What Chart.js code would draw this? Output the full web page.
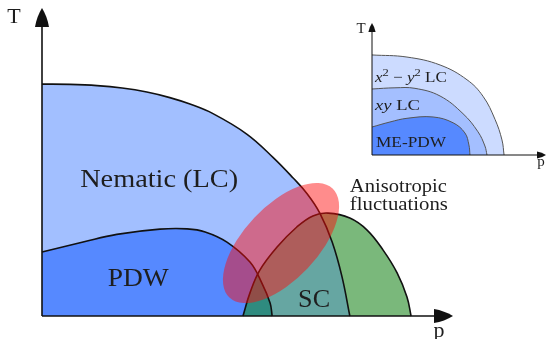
<!DOCTYPE html>
<html>
<head>
<meta charset="utf-8">
<script src="https://cdn.jsdelivr.net/npm/chart.js@4/dist/chart.umd.min.js"></script>
<style>
html,body{margin:0;padding:0;background:#fff;}
#wrap{position:relative;width:547px;height:339px;overflow:hidden;}
canvas{position:absolute;left:0;top:0;}
</style>
</head>
<body>
<div id="wrap">
<canvas id="main" width="547" height="339"></canvas>
<canvas id="inset" width="547" height="339"></canvas>
</div>
<script>
// Schematic phase diagram: doping p (x) against temperature T (y), arbitrary units 0..1

// Nematic (loop-current) transition line
const nematicP = [0, 0.068, 0.134, 0.195, 0.255, 0.311, 0.360, 0.416, 0.499, 0.562, 0.611, 0.645, 0.676, 0.706, 0.730, 0.749];
const nematicT = [0.753, 0.752, 0.748, 0.740, 0.727, 0.709, 0.688, 0.657, 0.590, 0.515, 0.448, 0.397, 0.334, 0.240, 0.127, 0];

// Pair-density-wave transition line
const pdwP = [0, 0.100, 0.182, 0.287, 0.353, 0.397, 0.450, 0.506, 0.535, 0.555, 0.560];
const pdwT = [0.208, 0.240, 0.265, 0.282, 0.283, 0.273, 0.240, 0.175, 0.107, 0.042, 0];

// Superconducting dome
const scP = [0.489, 0.506, 0.530, 0.572, 0.620, 0.659, 0.696, 0.749, 0.791, 0.830, 0.864, 0.888, 0.898];
const scT = [0, 0.075, 0.149, 0.224, 0.289, 0.325, 0.334, 0.318, 0.279, 0.214, 0.140, 0.062, 0];

// Region of anisotropic fluctuations: centre, end of the long axis, short/long axis ratio
const fluctCenter = [0.5815, 0.237];
const fluctAxisEnd = [0.707, 0.414];
const fluctAspect = 0.49;

// Inset: x^2-y^2 LC, xy LC and ME-PDW boundaries
const lcX2Y2P = [0, 0.201, 0.391, 0.546, 0.638, 0.707, 0.747, 0.759];
const lcX2Y2T = [0.758, 0.742, 0.682, 0.570, 0.445, 0.270, 0.114, 0];
const lcXYP = [0, 0.132, 0.247, 0.391, 0.523, 0.609, 0.649, 0.661];
const lcXYT = [0.500, 0.509, 0.505, 0.447, 0.313, 0.176, 0.068, 0];
const mePdwP = [0, 0.103, 0.201, 0.351, 0.466, 0.534, 0.557, 0.563];
const mePdwT = [0.212, 0.250, 0.278, 0.288, 0.244, 0.167, 0.076, 0];

const FONT = '"Liberation Serif", "Times New Roman", serif';
const TEXT = '#1e1e1e';

function pts(ps, ts) { return ps.map((p, i) => ({x: p, y: ts[i]})); }

// Rich text: parts may be italic or superscript; optional target width stretches horizontally
function drawRich(ctx, parts, x, y, size, align, width) {
  const fontOf = p => (p.it ? 'italic ' : '') + (p.sup ? Math.round(size * 0.7) : size) + 'px ' + FONT;
  let total = 0;
  const ws = parts.map(p => { ctx.font = fontOf(p); const w = ctx.measureText(p.t).width; total += w; return w; });
  const sx = width ? width / total : 1;
  ctx.save();
  ctx.translate(x, y);
  ctx.scale(sx, 1);
  ctx.fillStyle = TEXT;
  ctx.textBaseline = 'alphabetic';
  ctx.textAlign = 'left';
  let cx = align === 'center' ? -total / 2 : 0;
  parts.forEach((p, i) => {
    ctx.font = fontOf(p);
    ctx.fillText(p.t, cx, p.sup ? -size * 0.4 : 0);
    cx += ws[i];
  });
  ctx.restore();
}

function arrow(ctx, x0, y0, x1, y1, len, hw, lw) {
  const ang = Math.atan2(y1 - y0, x1 - x0);
  const bx = x1 - Math.cos(ang) * len * 0.8, by = y1 - Math.sin(ang) * len * 0.8;
  ctx.save();
  ctx.strokeStyle = '#111';
  ctx.fillStyle = '#111';
  ctx.lineWidth = lw;
  ctx.beginPath(); ctx.moveTo(x0, y0); ctx.lineTo(bx, by); ctx.stroke();
  const cx = x1 - Math.cos(ang) * len, cy = y1 - Math.sin(ang) * len;
  const nx = -Math.sin(ang) * hw, ny = Math.cos(ang) * hw;
  ctx.beginPath();
  ctx.moveTo(x1, y1);
  ctx.quadraticCurveTo(x1 - Math.cos(ang) * len * 0.45 + nx * 0.75, y1 - Math.sin(ang) * len * 0.45 + ny * 0.75, cx + nx, cy + ny);
  ctx.lineTo(cx - nx, cy - ny);
  ctx.quadraticCurveTo(x1 - Math.cos(ang) * len * 0.45 - nx * 0.75, y1 - Math.sin(ang) * len * 0.45 - ny * 0.75, x1, y1);
  ctx.closePath();
  ctx.fill();
  ctx.restore();
}

// Trace a dataset's curve down to T = 0 as a closed region
function regionPath(chart, idx) {
  const meta = chart.getDatasetMeta(idx);
  const line = meta.dataset;
  line.updateControlPoints(chart.chartArea, 'x');
  const p = meta.data;
  const base = chart.scales.y.getPixelForValue(0);
  const ctx = chart.ctx;
  ctx.moveTo(p[0].x, p[0].y);
  for (let i = 1; i < p.length; i++) {
    const a = p[i - 1], b = p[i];
    if (a.cp2x !== undefined && b.cp1x !== undefined) {
      ctx.bezierCurveTo(a.cp2x, a.cp2y, b.cp1x, b.cp1y, b.x, b.y);
    } else {
      ctx.lineTo(b.x, b.y);
    }
  }
  ctx.lineTo(p[p.length - 1].x, base);
  ctx.lineTo(p[0].x, base);
  ctx.closePath();
}

function baseOptions(pad) {
  return {
    responsive: false,
    animation: false,
    devicePixelRatio: 1,
    events: [],
    layout: {padding: pad},
    scales: {
      x: {type: 'linear', min: 0, max: 1, display: false},
      y: {type: 'linear', min: 0, max: 1, display: false}
    },
    elements: {point: {radius: 0}},
    plugins: {legend: {display: false}, tooltip: {enabled: false}}
  };
}

// Main diagram
const mainLabels = [
  {parts: [{t: 'Nematic (LC)'}], p: 0.285, T: 0.419, size: 26, align: 'center', width: 158},
  {parts: [{t: 'PDW'}], p: 0.234, T: 0.097, size: 26, align: 'center', width: 61},
  {parts: [{t: 'SC'}], p: 0.662, T: 0.029, size: 26, align: 'center', width: 32},
  {parts: [{t: 'Anisotropic'}], p: 0.749, T: 0.403, size: 19, align: 'left', width: 97},
  {parts: [{t: 'fluctuations'}], p: 0.749, T: 0.344, size: 19, align: 'left', width: 98},
  {parts: [{t: 'T'}], p: -0.068, T: 0.951, size: 22, align: 'center'},
  {parts: [{t: 'p'}], p: 0.966, T: -0.068, size: 22, align: 'center'}
];

const mainDecor = {
  id: 'mainDecor',
  beforeDatasetsDraw(chart) {
    const ctx = chart.ctx;
    // SC inside the nematic and PDW regions
    [[0, '#66A6A2'], [1, '#2F8B7F']].forEach(([idx, col]) => {
      ctx.save();
      ctx.beginPath(); regionPath(chart, idx); ctx.clip();
      ctx.beginPath(); regionPath(chart, 2);
      ctx.fillStyle = col; ctx.fill();
      ctx.restore();
    });
  },
  afterDatasetsDraw(chart) {
    const ctx = chart.ctx, xs = chart.scales.x, ys = chart.scales.y;
    const cx = xs.getPixelForValue(fluctCenter[0]), cy = ys.getPixelForValue(fluctCenter[1]);
    const ex = xs.getPixelForValue(fluctAxisEnd[0]), ey = ys.getPixelForValue(fluctAxisEnd[1]);
    const a = Math.hypot(ex - cx, ey - cy), ang = Math.atan2(ey - cy, ex - cx);
    ctx.save();
    ctx.fillStyle = 'rgba(255, 10, 10, 0.47)';
    ctx.beginPath(); ctx.ellipse(cx, cy, a, a * fluctAspect, ang, 0, Math.PI * 2); ctx.fill();
    ctx.restore();
  },
  afterDraw(chart) {
    const ctx = chart.ctx, xs = chart.scales.x, ys = chart.scales.y;
    const x0 = xs.getPixelForValue(0), y0 = ys.getPixelForValue(0);
    arrow(ctx, x0, y0, x0, ys.getPixelForValue(1), 19, 7, 1.6);
    arrow(ctx, x0, y0, xs.getPixelForValue(1), y0, 19, 7, 1.6);
    mainLabels.forEach(l => drawRich(ctx, l.parts, xs.getPixelForValue(l.p), ys.getPixelForValue(l.T), l.size, l.align, l.width));
  }
};

const lineStyle = {borderColor: '#111', borderWidth: 1.6, tension: 0.4, fill: 'origin', clip: false};

const mainOpts = baseOptions({left: 42, right: 94, top: 8, bottom: 23});
mainOpts.plugins.filler = {drawTime: 'beforeDatasetsDraw'};

new Chart(document.getElementById('main'), {
  type: 'line',
  data: {
    datasets: [
      Object.assign({label: 'Nematic (LC)', data: pts(nematicP, nematicT), backgroundColor: '#A2BFFF', order: 3}, lineStyle),
      Object.assign({label: 'PDW', data: pts(pdwP, pdwT), backgroundColor: '#5689FF', order: 2}, lineStyle),
      Object.assign({label: 'SC', data: pts(scP, scT), backgroundColor: '#7AB87B', order: 1}, lineStyle)
    ]
  },
  options: mainOpts,
  plugins: [mainDecor]
});

// Inset
const insetLabels = [
  {parts: [{t: 'x', it: true}, {t: '2', sup: true}, {t: ' \u2212 '}, {t: 'y', it: true}, {t: '2', sup: true}, {t: ' LC'}], p: 0.017, T: 0.553, size: 15, align: 'left', width: 72},
  {parts: [{t: 'xy', it: true}, {t: ' LC'}], p: 0.017, T: 0.341, size: 15, align: 'left', width: 45},
  {parts: [{t: 'ME-PDW'}], p: 0.023, T: 0.061, size: 15, align: 'left', width: 70},
  {parts: [{t: 'T'}], p: -0.063, T: 0.924, size: 15, align: 'center'},
  {parts: [{t: 'p'}], p: 0.971, T: -0.083, size: 15, align: 'center'}
];

const insetDecor = {
  id: 'insetDecor',
  afterDraw(chart) {
    const ctx = chart.ctx, xs = chart.scales.x, ys = chart.scales.y;
    const x0 = xs.getPixelForValue(0), y0 = ys.getPixelForValue(0);
    arrow(ctx, x0, y0, x0, ys.getPixelForValue(1), 9, 3.6, 1);
    arrow(ctx, x0, y0, xs.getPixelForValue(1), y0, 9, 3.6, 1);
    insetLabels.forEach(l => drawRich(ctx, l.parts, xs.getPixelForValue(l.p), ys.getPixelForValue(l.T), l.size, l.align, l.width));
  }
};

const insetLine = {borderColor: '#555', borderWidth: 1, tension: 0.4, fill: 'origin', clip: false};

new Chart(document.getElementById('inset'), {
  type: 'line',
  data: {
    datasets: [
      Object.assign({label: 'x2-y2 LC', data: pts(lcX2Y2P, lcX2Y2T), backgroundColor: '#CCDBFF', order: 3}, insetLine),
      Object.assign({label: 'xy LC', data: pts(lcXYP, lcXYT), backgroundColor: '#A4BFFF', order: 2}, insetLine),
      Object.assign({label: 'ME-PDW', data: pts(mePdwP, mePdwT), backgroundColor: '#5689FF', order: 1}, insetLine)
    ]
  },
  options: baseOptions({left: 372, right: 1, top: 23, bottom: 184}),
  plugins: [insetDecor]
});
</script>
</body>
</html>
